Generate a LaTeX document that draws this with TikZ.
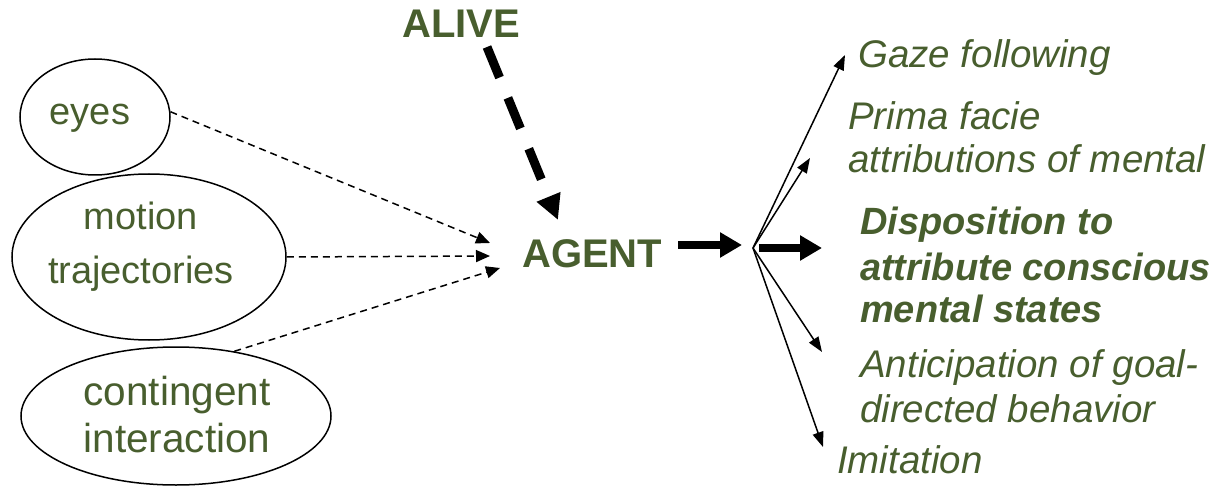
\documentclass[tikz,border=0pt]{standalone}
\usepackage{fontspec}
\setmainfont{Liberation Sans}
\usetikzlibrary{arrows.meta,shapes.geometric}
\definecolor{agreen}{RGB}{72,94,46}
\begin{document}
\begin{tikzpicture}[x=1pt,y=-1pt,
  txt/.style={font=\fontsize{38}{45}\selectfont, text=agreen, inner sep=0pt},
  bigtxt/.style={font=\fontsize{40.5}{46}\selectfont, text=agreen, inner sep=0pt},
  itx/.style={font=\fontsize{38.5}{45}\selectfont\itshape, text=agreen, inner sep=0pt, anchor=base west},
  bitx/.style={font=\fontsize{38}{45}\selectfont\bfseries\itshape, text=agreen, inner sep=0pt, anchor=base west},
  btx/.style={font=\fontsize{40}{46}\selectfont\bfseries, text=agreen, inner sep=0pt, anchor=base west},
  oval/.style={draw, ellipse, line width=1.5pt, inner sep=0pt},
  thindash/.style={line width=1.5pt, dash pattern=on 7pt off 5pt, -{Triangle[length=14pt,width=12pt]}},
  thickdash/.style={line width=9pt, dash pattern=on 33pt off 22pt, -{Triangle[length=25pt,width=24pt]}},
  thickarr/.style={line width=8pt, -{Triangle[length=22pt,width=24pt]}},
  thinarr/.style={line width=1.5pt, -{Triangle[length=15pt,width=11pt]}}]
\useasboundingbox (0,0) rectangle (1225,486);

% ellipses
\node[oval, minimum width=150pt, minimum height=116pt] (eyes) at (95,117) {};
\node[oval, minimum width=274pt, minimum height=166pt] (motion) at (149,257) {};
\node[oval, minimum width=310pt, minimum height=138pt] (cont) at (176,416) {};

\node[txt, anchor=base] (teyes) at (90,125) {eyes};
\node[txt, anchor=base] (tmot1) at (141,230) {motion};
\node[txt, anchor=base] (tmot2) at (141,283) {trajectories};
\node[bigtxt, anchor=base] (tcon1) at (177,405) {contingent};
\node[bigtxt, anchor=base] (tcon2) at (177,452) {interaction};

% center
\node[btx] (alive) at (402,38) {ALIVE};
\node[btx] (agent) at (522,267) {AGENT};

\coordinate (t1) at (490,243);
\coordinate (t2) at (490,256);
\coordinate (t3) at (500,268);
\coordinate (a1) at (487,47);
\coordinate (a2) at (558,220);
\coordinate (g1) at (678,245);
\coordinate (g2) at (742,245);
\coordinate (f) at (753,248);
\coordinate (fd) at (759,248);

\draw[thindash] (eyes.4) -- (t1);
\draw[thindash] (motion.east) -- (t2);
\draw[thindash] (cont.48) -- (t3);
\draw[thickdash] (a1) -- (a2);
\draw[thickarr] (g1) -- (g2);

% right texts
\node[itx] (gaze) at (858,68) {Gaze following};
\node[itx] (prima1) at (848,130) {Prima facie};
\node[itx] (prima2) at (848,173) {attributions of mental};
\node[bitx] (disp1) at (860,235) {Disposition to};
\node[bitx] (disp2) at (860,280) {attribute conscious};
\node[bitx] (disp3) at (860,322) {mental states};
\node[itx] (anti1) at (860,377) {Anticipation of goal-};
\node[itx] (anti2) at (860,422) {directed behavior};
\node[itx] (imit) at (837,473) {Imitation};

\coordinate (e1) at (845,55);
\coordinate (e2) at (810,158);
\coordinate (e3) at (822,248);
\coordinate (e4) at (822,352);
\coordinate (e5) at (823,447);

\draw[thinarr] (f) -- (e1);
\draw[thinarr] (f) -- (e2);
\draw[thickarr] (fd) -- (e3);
\draw[thinarr] (f) -- (e4);
\draw[thinarr] (f) -- (e5);
\end{tikzpicture}
\end{document}
